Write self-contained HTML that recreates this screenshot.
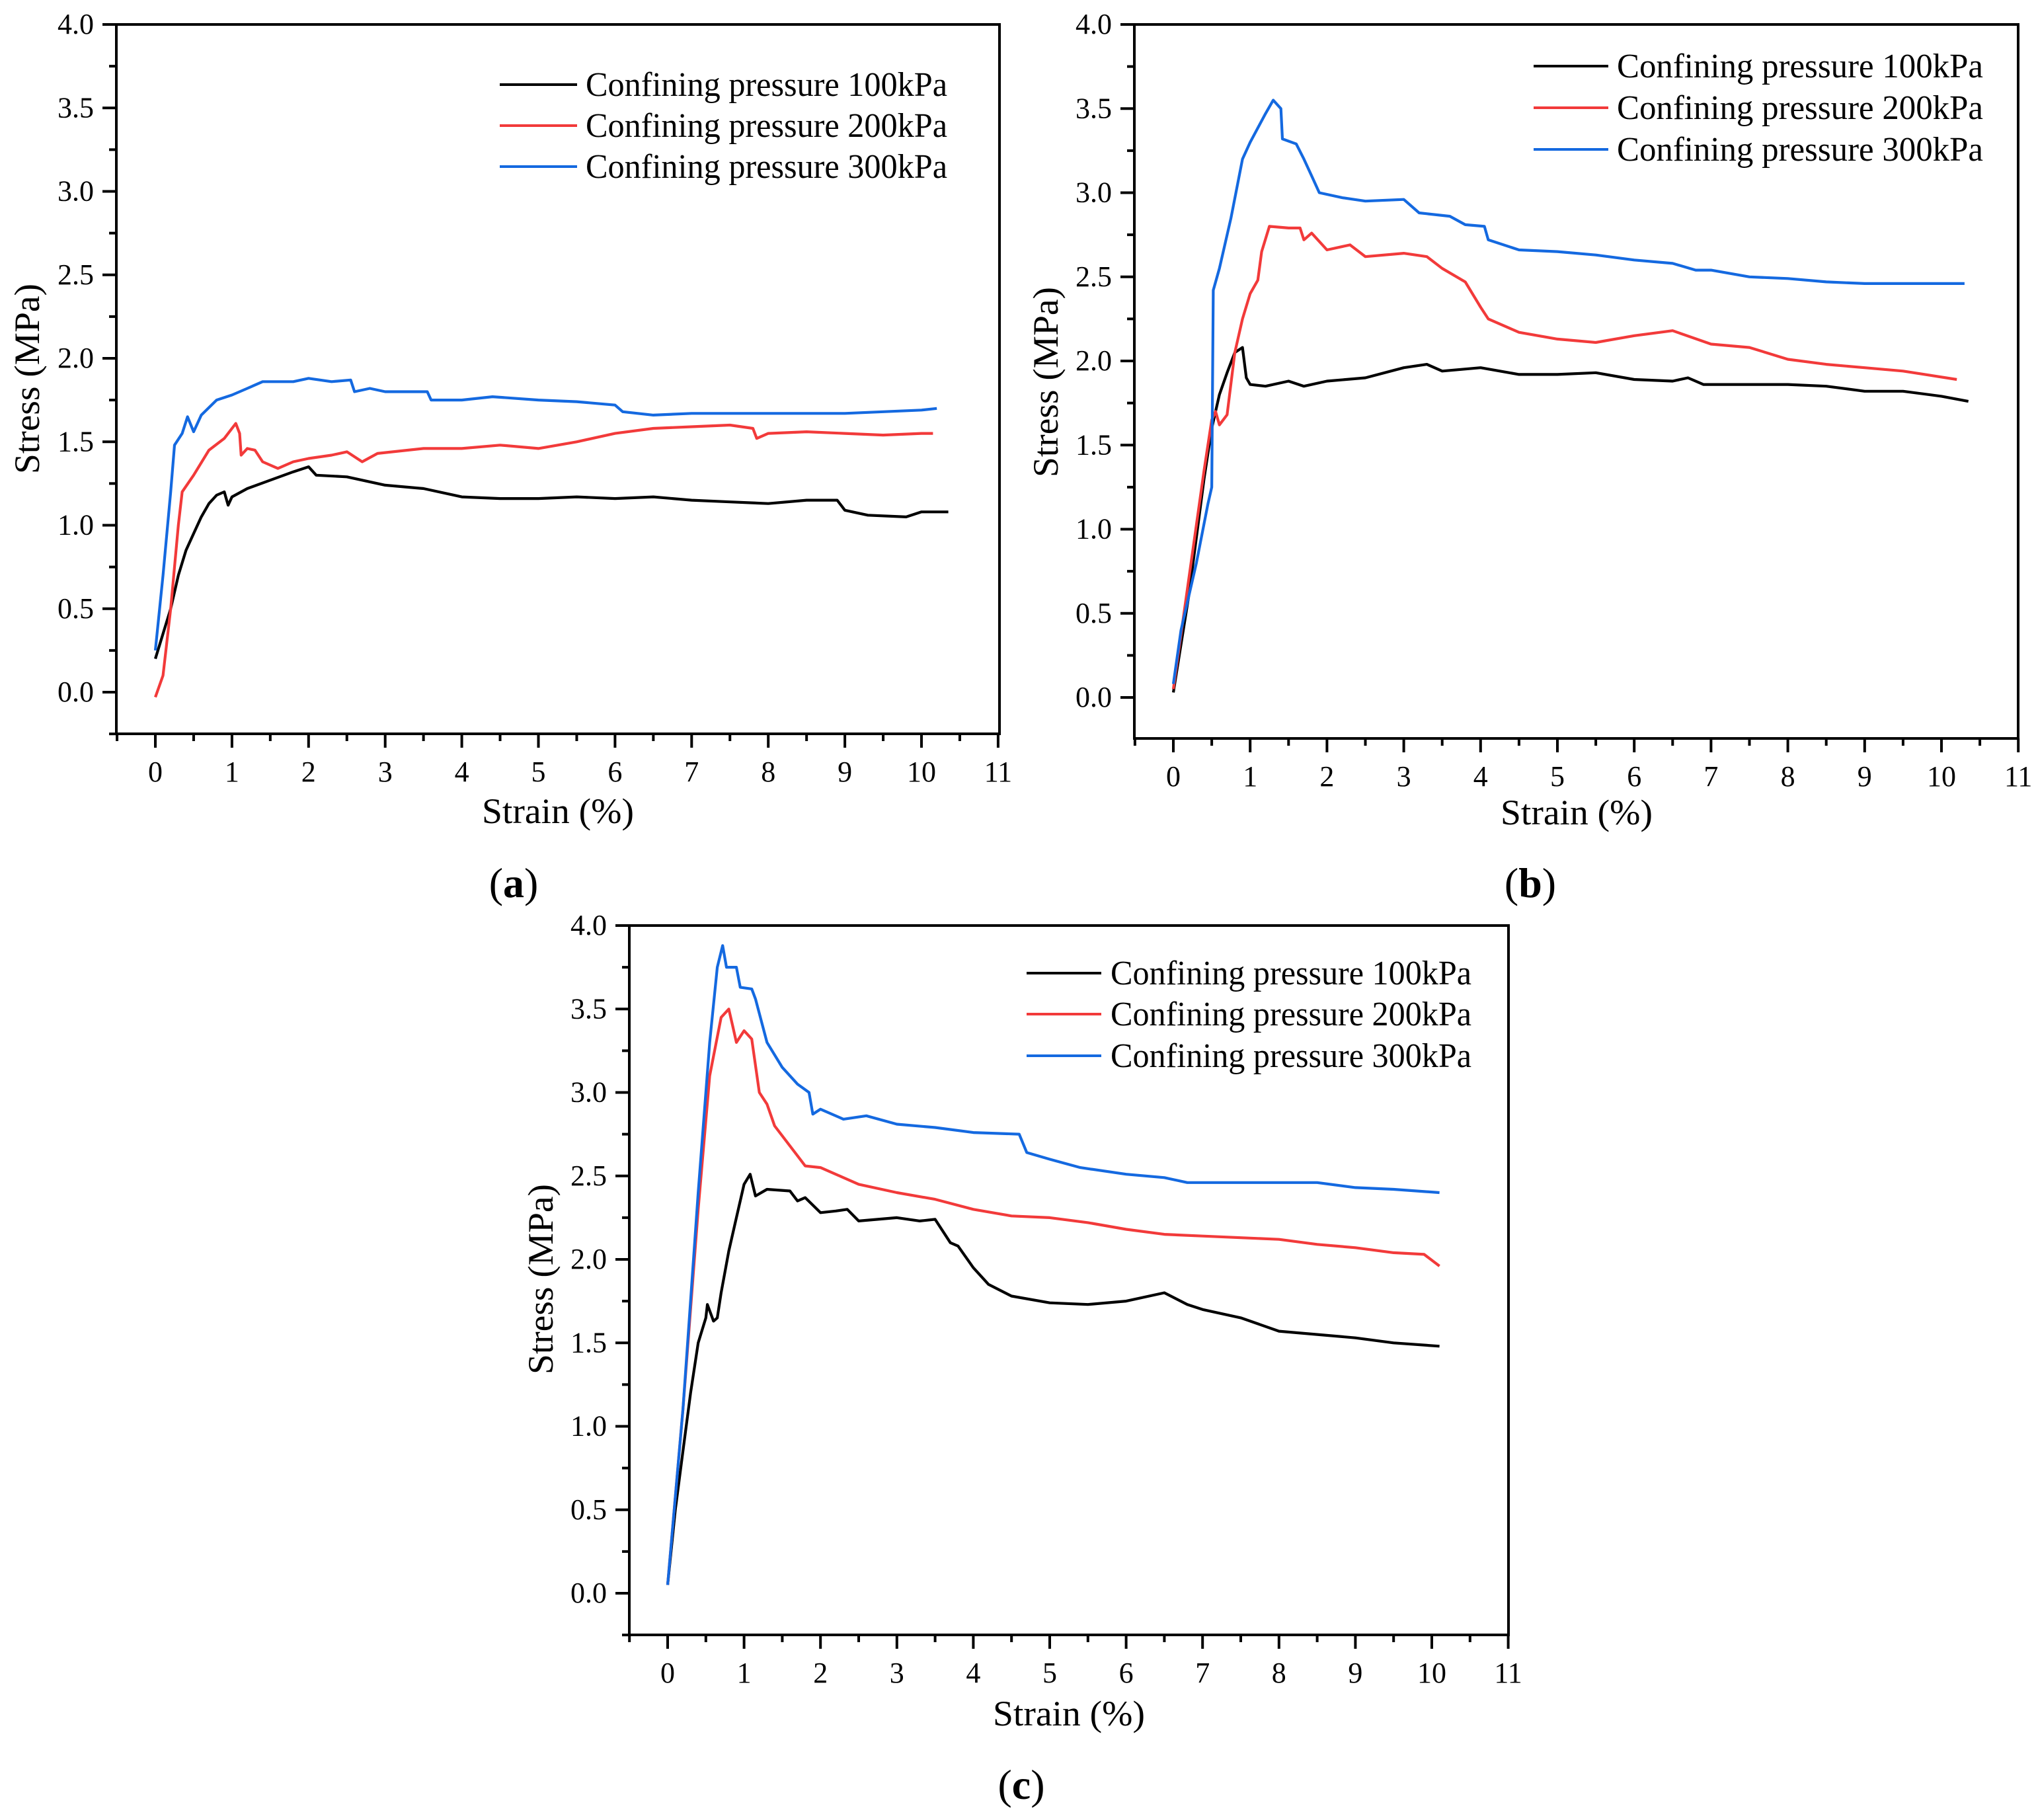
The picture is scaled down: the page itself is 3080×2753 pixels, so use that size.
<!DOCTYPE html>
<html><head><meta charset="utf-8">
<style>
html,body{margin:0;padding:0;background:#fff;}
svg{display:block;}
svg text{font-family:"Liberation Serif","DejaVu Serif","Times New Roman",serif;}
</style></head>
<body>
<svg id="fig" width="3080" height="2753" viewBox="0 0 3080 2753" xmlns="http://www.w3.org/2000/svg" font-family="Liberation Serif, DejaVu Serif, serif"></svg>
<script>
// ---- data (strain %, stress MPa) ----
const seriesNames = ["Confining pressure 100kPa","Confining pressure 200kPa","Confining pressure 300kPa"];
const seriesColors = ["#000000","#f23a3a","#1469e0"];
const xTickLabels = ["0","1","2","3","4","5","6","7","8","9","10","11"];
const yTickLabels = ["0.0","0.5","1.0","1.5","2.0","2.5","3.0","3.5","4.0"];

const a100x = [0,0.1,0.2,0.3,0.4,0.5,0.6,0.7,0.8,0.9,0.95,1.0,1.2,1.5,1.8,2.0,2.1,2.5,3.0,3.5,4.0,4.5,5,5.5,6,6.5,7,7.5,8,8.5,8.9,9,9.3,9.8,10,10.35];
const a100y = [0.2,0.35,0.5,0.7,0.85,0.95,1.05,1.13,1.18,1.2,1.12,1.17,1.22,1.27,1.32,1.35,1.3,1.29,1.24,1.22,1.17,1.16,1.16,1.17,1.16,1.17,1.15,1.14,1.13,1.15,1.15,1.09,1.06,1.05,1.08,1.08];
const a200x = [0,0.1,0.2,0.3,0.35,0.5,0.7,0.9,1.05,1.1,1.12,1.2,1.3,1.4,1.6,1.8,2.0,2.3,2.5,2.7,2.9,3.5,4,4.5,5,5.5,6,6.5,7,7.5,7.8,7.85,8,8.5,9,9.5,10,10.15];
const a200y = [-0.03,0.1,0.5,1.0,1.2,1.3,1.45,1.52,1.61,1.55,1.42,1.46,1.45,1.38,1.34,1.38,1.40,1.42,1.44,1.38,1.43,1.46,1.46,1.48,1.46,1.50,1.55,1.58,1.59,1.60,1.58,1.52,1.55,1.56,1.55,1.54,1.55,1.55];
const a300x = [0,0.1,0.2,0.25,0.35,0.42,0.5,0.6,0.8,1.0,1.2,1.4,1.8,2.0,2.3,2.55,2.6,2.8,3.0,3.55,3.6,4,4.4,5,5.5,6.0,6.1,6.5,7,7.5,8,8.5,9,9.5,10,10.2];
const a300y = [0.25,0.7,1.2,1.48,1.55,1.65,1.56,1.66,1.75,1.78,1.82,1.86,1.86,1.88,1.86,1.87,1.80,1.82,1.80,1.80,1.75,1.75,1.77,1.75,1.74,1.72,1.68,1.66,1.67,1.67,1.67,1.67,1.67,1.68,1.69,1.70];

const b100x = [0,0.2,0.4,0.5,0.6,0.7,0.8,0.9,0.95,1.0,1.2,1.5,1.7,2,2.5,3,3.3,3.5,4,4.5,5,5.5,6,6.5,6.7,6.9,7.5,8,8.5,9,9.5,10,10.35];
const b100y = [0.03,0.6,1.3,1.6,1.8,1.93,2.05,2.08,1.9,1.86,1.85,1.88,1.85,1.88,1.9,1.96,1.98,1.94,1.96,1.92,1.92,1.93,1.89,1.88,1.9,1.86,1.86,1.86,1.85,1.82,1.82,1.79,1.76];
const b200x = [0,0.2,0.4,0.5,0.55,0.6,0.7,0.8,0.9,1.0,1.1,1.15,1.25,1.5,1.65,1.7,1.8,2.0,2.3,2.5,3,3.3,3.5,3.8,4,4.1,4.5,5,5.5,6,6.5,7,7.5,8,8.5,9,9.5,10.2];
const b200y = [0.05,0.7,1.35,1.65,1.70,1.62,1.68,2.05,2.25,2.4,2.48,2.65,2.8,2.79,2.79,2.72,2.76,2.66,2.69,2.62,2.64,2.62,2.55,2.47,2.32,2.25,2.17,2.13,2.11,2.15,2.18,2.10,2.08,2.01,1.98,1.96,1.94,1.89];
const b300x = [0,0.1,0.3,0.45,0.5,0.52,0.6,0.75,0.9,1.0,1.2,1.3,1.4,1.42,1.6,1.7,1.8,1.9,2.2,2.5,3.0,3.2,3.6,3.8,4.05,4.1,4.5,5,5.5,6,6.5,6.8,7,7.5,8,8.5,9,9.5,10.3];
const b300y = [0.08,0.4,0.8,1.15,1.25,2.42,2.55,2.85,3.2,3.3,3.47,3.55,3.5,3.32,3.29,3.2,3.1,3.0,2.97,2.95,2.96,2.88,2.86,2.81,2.8,2.72,2.66,2.65,2.63,2.6,2.58,2.54,2.54,2.5,2.49,2.47,2.46,2.46,2.46];

const c100x = [0,0.1,0.2,0.3,0.4,0.5,0.52,0.6,0.65,0.7,0.8,0.9,1.0,1.08,1.15,1.3,1.6,1.7,1.8,2.0,2.2,2.35,2.5,3,3.3,3.5,3.7,3.8,4,4.2,4.5,5,5.5,6,6.5,6.8,7,7.5,8,8.5,9,9.5,10.1];
const c100y = [0.05,0.5,0.85,1.2,1.5,1.65,1.73,1.63,1.65,1.8,2.05,2.25,2.45,2.51,2.38,2.42,2.41,2.35,2.37,2.28,2.29,2.3,2.23,2.25,2.23,2.24,2.1,2.08,1.95,1.85,1.78,1.74,1.73,1.75,1.8,1.73,1.70,1.65,1.57,1.55,1.53,1.50,1.48];
const c200x = [0,0.2,0.4,0.55,0.7,0.8,0.85,0.9,1.0,1.1,1.2,1.3,1.4,1.7,1.8,2,2.5,3,3.5,4,4.5,5,5.5,6,6.5,7,7.5,8,8.5,9,9.5,9.9,10.1];
const c200y = [0.05,1.1,2.3,3.1,3.45,3.5,3.4,3.3,3.37,3.32,3.0,2.93,2.8,2.62,2.56,2.55,2.45,2.4,2.36,2.3,2.26,2.25,2.22,2.18,2.15,2.14,2.13,2.12,2.09,2.07,2.04,2.03,1.96];
const c300x = [0,0.2,0.4,0.55,0.65,0.72,0.77,0.9,0.95,1.1,1.15,1.3,1.5,1.7,1.85,1.9,2,2.3,2.6,3,3.5,4,4.6,4.7,5,5.4,6,6.5,6.8,7.5,8,8.5,9,9.5,10.1];
const c300y = [0.05,1.1,2.4,3.3,3.75,3.88,3.75,3.75,3.63,3.62,3.56,3.3,3.15,3.05,3.0,2.87,2.9,2.84,2.86,2.81,2.79,2.76,2.75,2.64,2.6,2.55,2.51,2.49,2.46,2.46,2.46,2.46,2.43,2.42,2.40];

const NS = "http://www.w3.org/2000/svg";
const FONT = "Liberation Serif, DejaVu Serif, serif";
const fig = document.getElementById('fig');
function mk(tag, attrs, parent){
  const e = document.createElementNS(NS, tag);
  for (const k in attrs) e.setAttribute(k, attrs[k]);
  if (tag === 'text') e.setAttribute('font-family', FONT);
  (parent||fig).appendChild(e);
  return e;
}

const panels = [
  {id:"a", L:176, R:1512, T:37, B:1110, x0:235, ux:115.9, y0:1047, uy:252.5,
   xs:[a100x,a200x,a300x], ys:[a100y,a200y,a300y],
   legX1:756, legX2:873, legT:886, legY:[128,190,252], legW:547,
   xtY:1227, xtX:844, ytX:41, ytY:573, labX:777, labY:1335},
  {id:"b", L:1716, R:3053, T:37, B:1117, x0:1775, ux:116.2, y0:1055, uy:254.5,
   xs:[b100x,b200x,b300x], ys:[b100y,b200y,b300y],
   legX1:2320, legX2:2433, legT:2446, legY:[100,163,226], legW:554,
   xtY:1229, xtX:2385, ytX:1582, ytY:578, labX:2315, labY:1335},
  {id:"c", L:952, R:2282, T:1400, B:2473, x0:1010, ux:115.6, y0:2410, uy:252.5,
   xs:[c100x,c200x,c300x], ys:[c100y,c200y,c300y],
   legX1:1553, legX2:1666, legT:1680, legY:[1472,1534,1597], legW:546,
   xtY:2592, xtX:1617, ytX:818, ytY:1935, labX:1545, labY:2699}
];

panels.forEach(p=>{
  const X = v => p.x0 + v*p.ux;
  const Y = v => p.y0 - v*p.uy;
  const g = mk('g', {});
  
  

  p.xs.forEach((xa, si)=>{
    const ya = p.ys[si];
    let d = "";
    for (let i=0;i<xa.length;i++) d += (i?"L":"M") + X(xa[i]).toFixed(1) + " " + Y(ya[i]).toFixed(1);
    const path = mk('path', {d:d, fill:"none", stroke:seriesColors[si], "stroke-width":4.2, "stroke-linejoin":"round"}, g);
    
    
  });

  const fr = mk('rect', {x:p.L, y:p.T, width:p.R-p.L, height:p.B-p.T, fill:"none", stroke:"#000", "stroke-width":4}, g);
  
  

  for (let k=-1;k<=16;k++){
    const v = k*0.25, y = Y(v);
    if (y > p.B+1 || y < p.T-1) continue;
    const major = (k%2===0);
    mk('line', {x1:p.L-(major?21:11), x2:p.L, y1:y, y2:y, stroke:"#000", "stroke-width":4}, g);
  }
  yTickLabels.forEach((lab,i)=>{
    const t = mk('text', {x:p.L-34, y:Y(i*0.5)+14, "font-size":44, "text-anchor":"end"}, g);
    t.textContent = lab;
    
    
  });
  for (let k=-1;k<=22;k++){
    const v = k*0.5, x = X(v);
    if (x < p.L-1 || x > p.R+1) continue;
    const major = (k%2===0);
    mk('line', {x1:x, x2:x, y1:p.B, y2:p.B+(major?21:11), stroke:"#000", "stroke-width":4}, g);
  }
  xTickLabels.forEach((lab,i)=>{
    const t = mk('text', {x:X(i), y:p.B+72, "font-size":44, "text-anchor":"middle"}, g);
    t.textContent = lab;
    
    
  });

  const xt = mk('text', {x:p.xtX, y:p.xtY+18, "font-size":54, "text-anchor":"middle", textLength:230, lengthAdjust:"spacingAndGlyphs"}, g);
  xt.textContent = "Strain (%)";
  
  
  const yt = mk('text', {x:0, y:0, "font-size":54, "text-anchor":"middle", textLength:288, lengthAdjust:"spacingAndGlyphs",
    transform:`translate(${p.ytX+18},${p.ytY}) rotate(-90)`}, g);
  yt.textContent = "Stress (MPa)";
  
  

  seriesNames.forEach((nm,si)=>{
    const lg = mk('g', {}, g);
    
    
    mk('line', {x1:p.legX1, x2:p.legX2, y1:p.legY[si], y2:p.legY[si], stroke:seriesColors[si], "stroke-width":4}, lg);
    const t = mk('text', {x:p.legT, y:p.legY[si]+17, "font-size":52, textLength:p.legW, lengthAdjust:"spacingAndGlyphs"}, lg);
    t.textContent = nm;
  });

  const pl = mk('text', {x:p.labX, y:p.labY+22, "font-size":64, "text-anchor":"middle"}, g);
  pl.innerHTML = '(<tspan font-weight="bold">' + p.id + '</tspan>)';
  
  
});
</script>
</body></html>
